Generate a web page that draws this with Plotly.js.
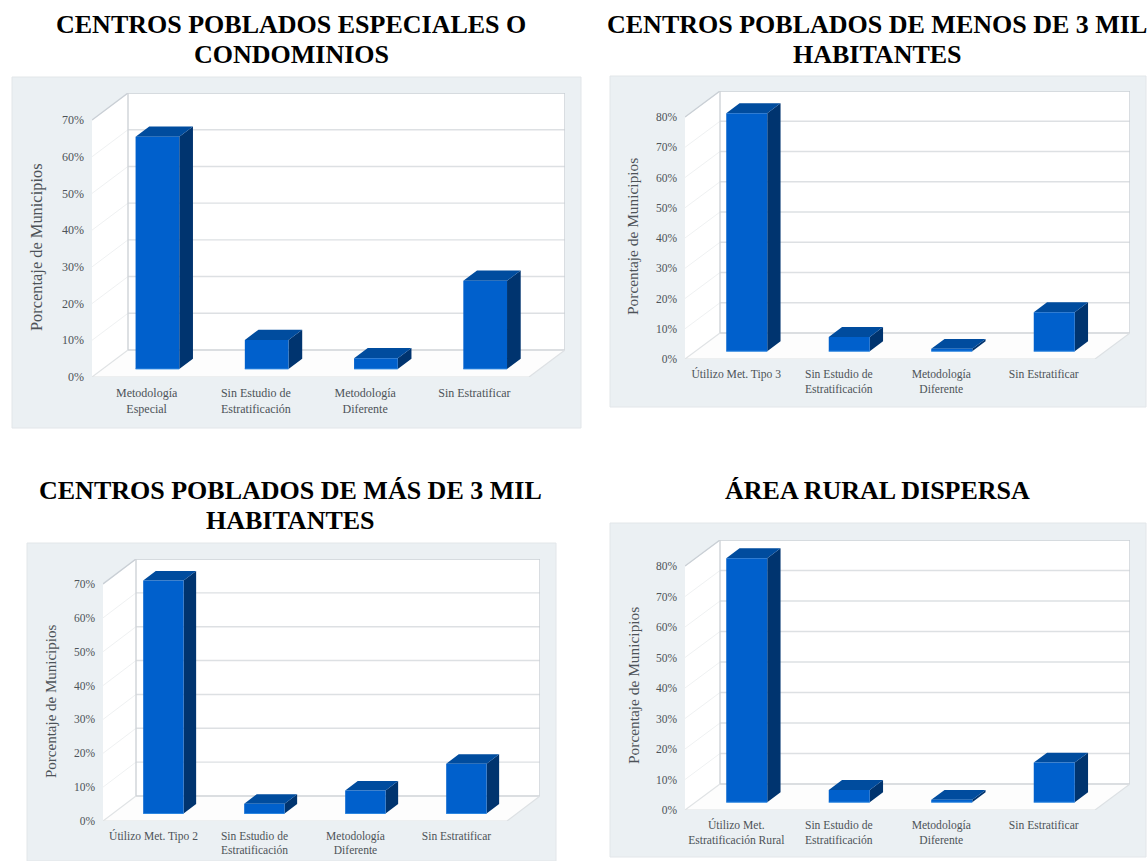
<!DOCTYPE html>
<html lang="es">
<head>
<meta charset="utf-8">
<title>Estratificación por tipo de centro poblado</title>
<script src="https://cdn.plot.ly/plotly-3.0.0.min.js"></script>
<style>
  html, body { margin: 0; padding: 0; background: #ffffff; }
  #chart { width: 1148px; height: 861px; }
</style>
</head>
<body>
<div id="chart"></div>
<script>
// Percentage of municipalities per stratification method, one list per panel.
const titleEspeciales = ["CENTROS POBLADOS ESPECIALES O", "CONDOMINIOS"];
const catsEspeciales = ["Metodología<br>Especial", "Sin Estudio de<br>Estratificación", "Metodología<br>Diferente", "Sin Estratificar"];
const valsEspeciales = [63.2, 7.9, 2.9, 24];

const titleMenos = ["CENTROS POBLADOS DE MENOS DE 3 MIL", "HABITANTES"];
const catsMenos = ["Útilizo Met. Tipo 3", "Sin Estudio de<br>Estratificación", "Metodología<br>Diferente", "Sin Estratificar"];
const valsMenos = [78.7, 4.7, 0.8, 12.9];

const titleMas = ["CENTROS POBLADOS DE MÁS DE 3 MIL", "HABITANTES"];
const catsMas = ["Útilizo Met. Tipo 2", "Sin Estudio de<br>Estratificación", "Metodología<br>Diferente", "Sin Estratificar"];
const valsMas = [68.8, 2.9, 6.8, 14.7];

const titleRural = ["ÁREA RURAL DISPERSA"];
const catsRural = ["Útilizo Met.<br>Estratificación Rural", "Sin Estudio de<br>Estratificación", "Metodología<br>Diferente", "Sin Estratificar"];
const valsRural = [80, 4, 0.8, 13];

const yTitle = "Porcentaje de Municipios";

// Page placement of each panel, in pixels.
const FIG_W = 1148, FIG_H = 861;
const SERIF = '"Liberation Serif", "Times New Roman", serif';
const panels = [
  { title: titleEspeciales, cats: catsEspeciales, vals: valsEspeciales, vmax: 70,
    box: [12, 77, 581, 428], left: 92, right: 529, backRight: 565, floorY: 377, backFloorY: 350, topY: 93,
    titleX: 291, titleY: [25, 54], yTitleAt: [37, 247], yTitleSize: 16.4, tickSize: 12, valueTickSize: 12, catGap: 7 },
  { title: titleMenos, cats: catsMenos, vals: valsMenos, vmax: 80,
    box: [610, 76, 1146, 407], left: 685, right: 1095, backRight: 1130, floorY: 359, backFloorY: 333, topY: 91,
    titleX: 877, titleY: [25, 54], yTitleAt: [633, 237], yTitleSize: 15.4, tickSize: 11.6, valueTickSize: 11.5, catGap: 6 },
  { title: titleMas, cats: catsMas, vals: valsMas, vmax: 70,
    box: [27, 543, 556, 861], left: 103, right: 507, backRight: 540, floorY: 821, backFloorY: 796, topY: 559,
    titleX: 290, titleY: [490, 520], yTitleAt: [51, 702], yTitleSize: 15, tickSize: 11.5, valueTickSize: 11.5, catGap: 6 },
  { title: titleRural, cats: catsRural, vals: valsRural, vmax: 80,
    box: [610, 523, 1146, 857], left: 685, right: 1095, backRight: 1130, floorY: 810, backFloorY: 784, topY: 540,
    titleX: 877, titleY: [490], yTitleAt: [633, 686], yTitleSize: 15.4, tickSize: 11.6, valueTickSize: 11.5, catGap: 6 }
];

const BAR_HALF = 0.2;             // half a bar width, in category units
const DEPTH_NEAR = 0.3;           // bar front and back, as fractions of the floor depth
const DEPTH_FAR = 0.68;
const FRONT = "#0060cc", SIDE = "#00346f", TOP = "#004c9e", EDGE = "#2b86e0";
const WALL = "#ffffff", FLOOR = "#fdfdfd", GRID = "#dde0e3", SIDE_GRID = "#eff1f2", FRAME = "#c9cfd5";

const traces = [], shapes = [], annotations = [];
const layout = {
  width: FIG_W, height: FIG_H,
  margin: { l: 0, r: 0, t: 0, b: 0 },
  paper_bgcolor: "#ffffff", plot_bgcolor: "rgba(0,0,0,0)",
  showlegend: false, font: { family: SERIF, color: "#4d5358" }
};

panels.forEach((p, idx) => {
  const n = idx + 1;
  const xName = "x" + (n > 1 ? n : ""), yName = "y" + (n > 1 ? n : "");
  const xKey = "xaxis" + (n > 1 ? n : ""), yKey = "yaxis" + (n > 1 ? n : "");

  // The oblique depth is expressed in axis units, so every face goes through the axis scales.
  const count = p.cats.length;
  const unitX = (p.right - p.left) / count;
  const valueScale = (p.backFloorY - p.topY) / p.vmax;
  const dx = (p.backRight - p.right) / unitX;
  const dy = (p.floorY - p.backFloorY) / valueScale;

  const add = (x, y, extra) => traces.push(Object.assign({
    x, y, xaxis: xName, yaxis: yName, type: "scatter", mode: "lines",
    hoverinfo: "skip", cliponaxis: false
  }, extra));
  const face = (x, y, color) => add(x, y, { fill: "toself", fillcolor: color, line: { width: 0, color } });
  const rule = (x, y, color, width) => add(x, y, { line: { color, width: width || 1 } });

  // Walls and floor of the box.
  face([0, dx, dx, 0, 0], [0, dy, p.vmax + dy, p.vmax, 0], WALL);
  face([dx, count + dx, count + dx, dx, dx], [dy, dy, p.vmax + dy, p.vmax + dy, dy], WALL);
  face([0, count, count + dx, dx, 0], [0, 0, dy, dy, 0], FLOOR);

  // Grid lines run across the side wall and then the back wall.
  for (let v = 10; v <= p.vmax; v += 10) {
    rule([0, dx], [v, v + dy], SIDE_GRID);
    if (v < p.vmax) rule([dx, count + dx], [v + dy, v + dy], GRID, 1.4);
  }

  // Frame of the box.
  rule([0, dx, count + dx, count + dx], [p.vmax, p.vmax + dy, p.vmax + dy, dy], FRAME, 1.4);
  rule([dx, dx, count + dx], [p.vmax + dy, dy, dy], "#cfd3d7", 1.4);
  rule([0, count, count + dx], [0, 0, dy], "#dde1e4", 1.2);
  rule([0, dx], [0, dy], "#e0e3e5", 1.2);

  // Three visible faces of each bar, separated by gaps inside one trace per face.
  const frontX = [], frontY = [], sideX = [], sideY = [], topX = [], topY = [], edgeX = [], edgeY = [];
  p.vals.forEach((val, i) => {
    const a = i + 0.5 - BAR_HALF, b = i + 0.5 + BAR_HALF;
    const nx = DEPTH_NEAR * dx, ny = DEPTH_NEAR * dy, fx = DEPTH_FAR * dx, fy = DEPTH_FAR * dy;
    frontX.push(a + nx, b + nx, b + nx, a + nx, a + nx, null);
    frontY.push(ny, ny, val + ny, val + ny, ny, null);
    sideX.push(b + nx, b + fx, b + fx, b + nx, b + nx, null);
    sideY.push(ny, fy, val + fy, val + ny, ny, null);
    topX.push(a + nx, b + nx, b + fx, a + fx, a + nx, null);
    topY.push(val + ny, val + ny, val + fy, val + fy, val + ny, null);
    edgeX.push(a + nx, b + nx, null);
    edgeY.push(ny, ny, null);
  });
  face(sideX, sideY, SIDE);
  face(topX, topY, TOP);
  face(frontX, frontY, FRONT);
  rule(edgeX, edgeY, EDGE);

  layout[xKey] = {
    domain: [p.left / FIG_W, p.backRight / FIG_W],
    range: [0, count + dx], anchor: yName,
    tickmode: "array", tickvals: p.cats.map((_, i) => i + 0.5), ticktext: p.cats,
    ticks: "", ticklabelstandoff: p.catGap, tickangle: 0, tickfont: { family: SERIF, size: p.tickSize, color: "#4d5358" },
    showgrid: false, zeroline: false, showline: false, fixedrange: true
  };
  const yTicks = [];
  for (let v = 0; v <= p.vmax; v += 10) yTicks.push(v);
  layout[yKey] = {
    domain: [1 - p.floorY / FIG_H, 1 - p.topY / FIG_H],
    range: [0, p.vmax + dy], anchor: xName,
    tickmode: "array", tickvals: yTicks, ticktext: yTicks.map(v => v + "%"),
    ticks: "", ticklabelstandoff: 7, tickfont: { family: SERIF, size: p.valueTickSize, color: "#4d5358" },
    showgrid: false, zeroline: false, showline: false, fixedrange: true
  };

  // Panel card behind the plot.
  shapes.push({
    type: "rect", xref: "paper", yref: "paper", layer: "below",
    x0: p.box[0] / FIG_W, x1: p.box[2] / FIG_W, y0: 1 - p.box[3] / FIG_H, y1: 1 - p.box[1] / FIG_H,
    fillcolor: "#ebf0f3", line: { color: "#e2e6e9", width: 1 }
  });

  p.title.forEach((line, k) => annotations.push({
    text: "<b>" + line + "</b>", xref: "paper", yref: "paper", showarrow: false,
    x: p.titleX / FIG_W, y: 1 - p.titleY[k] / FIG_H, xanchor: "center", yanchor: "middle",
    font: { family: SERIF, size: 26, color: "#000000" }
  }));
  annotations.push({
    text: yTitle, xref: "paper", yref: "paper", showarrow: false, textangle: -90,
    x: p.yTitleAt[0] / FIG_W, y: 1 - p.yTitleAt[1] / FIG_H, xanchor: "center", yanchor: "middle",
    font: { family: SERIF, size: p.yTitleSize, color: "#4d5358" }
  });
});

layout.shapes = shapes;
layout.annotations = annotations;

Plotly.newPlot("chart", traces, layout, { displayModeBar: false, responsive: false });
</script>
</body>
</html>
